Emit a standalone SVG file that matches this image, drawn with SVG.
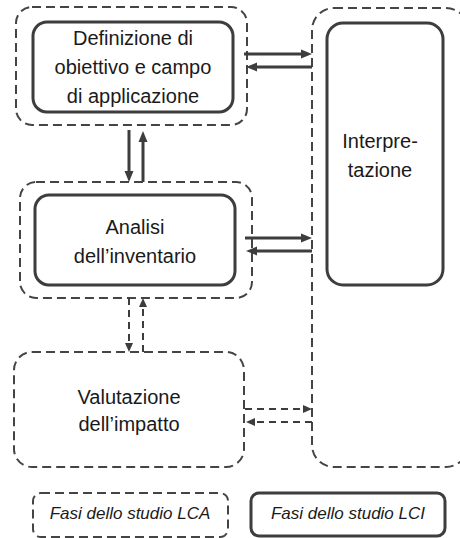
<svg xmlns="http://www.w3.org/2000/svg" width="460" height="538" viewBox="0 0 460 538">
<defs>
<marker id="ah" markerUnits="userSpaceOnUse" markerWidth="12" markerHeight="10" refX="4" refY="5" orient="auto">
<path d="M0,0.5 L11,5 L0,9.5 z" fill="#3d3d3d"/>
</marker>
<marker id="ahs" markerUnits="userSpaceOnUse" markerWidth="10" markerHeight="9" refX="3" refY="4.5" orient="auto">
<path d="M0,0.5 L9,4.5 L0,8.5 z" fill="#3d3d3d"/>
</marker>
</defs>
<style>
.dash{fill:none;stroke:#444;stroke-width:2;stroke-dasharray:9 5}
.solid{fill:#fff;stroke:#3d3d3d;stroke-width:3}
.t{font-family:"Liberation Sans",Arial,sans-serif;font-size:20px;fill:#1a1a1a;text-anchor:middle}
.lg{font-family:"Liberation Sans",Arial,sans-serif;font-size:17px;font-style:italic;fill:#1a1a1a;text-anchor:middle}
.a{fill:none;stroke:#3d3d3d;stroke-width:3;marker-end:url(#ah)}
.ad{fill:none;stroke:#3d3d3d;stroke-width:2;stroke-dasharray:7 5;marker-end:url(#ahs)}
</style>
<g id="goal">
<rect class="dash" x="16" y="7" width="231" height="118" rx="16"/>
<rect class="solid" x="33" y="22" width="200" height="90" rx="14"/>
<text class="t" x="133" y="45">Definizione di</text>
<text class="t" x="133" y="74">obiettivo e campo</text>
<text class="t" x="133" y="103">di applicazione</text>
</g>
<g id="inventory">
<rect class="dash" x="20" y="182" width="232" height="116" rx="16"/>
<rect class="solid" x="35" y="195" width="200" height="90" rx="14"/>
<text class="t" x="135" y="234">Analisi</text>
<text class="t" x="135" y="263">dell’inventario</text>
</g>
<g id="impact">
<rect class="dash" x="14" y="352" width="230" height="115" rx="18"/>
<text class="t" x="129" y="404">Valutazione</text>
<text class="t" x="129" y="431">dell’impatto</text>
</g>
<g id="interpretation">
<rect class="dash" x="312" y="8" width="156" height="459" rx="22"/>
<rect class="solid" x="327" y="23" width="116" height="262" rx="16"/>
<text class="t" x="380" y="148">Interpre-</text>
<text class="t" x="380" y="177">tazione</text>
</g>
<g id="legend-lca">
<rect class="dash" x="33" y="493" width="195" height="44" rx="8"/>
<text class="lg" x="130" y="519">Fasi dello studio LCA</text>
</g>
<g id="legend-lci">
<rect class="solid" x="251" y="493" width="194" height="43" rx="8"/>
<text class="lg" x="348" y="519">Fasi dello studio LCI</text>
</g>
<g id="connectors">
<line class="a" x1="244" y1="54" x2="305" y2="54"/>
<line class="a" x1="312" y1="67" x2="253" y2="67"/>
<line class="a" x1="245" y1="238" x2="305" y2="238"/>
<line class="a" x1="312" y1="251" x2="253" y2="251"/>
<line class="a" x1="129" y1="130" x2="129" y2="175"/>
<line class="a" x1="143" y1="182" x2="143" y2="138"/>
<line class="ad" x1="129" y1="298" x2="129" y2="346"/>
<line class="ad" x1="143" y1="352" x2="143" y2="304"/>
<line class="ad" x1="245" y1="409" x2="306" y2="409"/>
<line class="ad" x1="312" y1="422" x2="252" y2="422"/>
</g>
</svg>
